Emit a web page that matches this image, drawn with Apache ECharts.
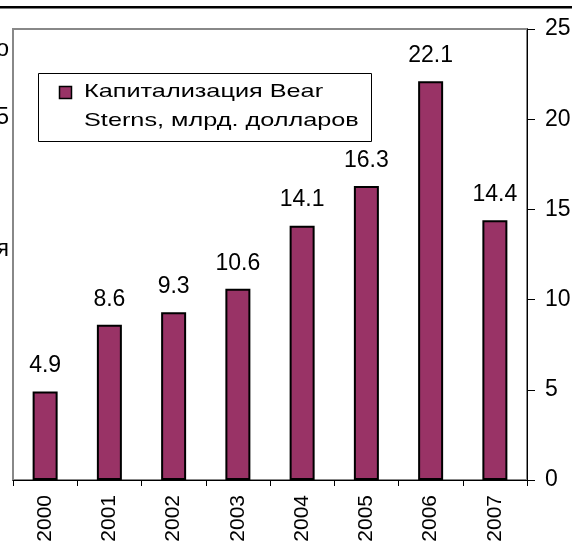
<!DOCTYPE html>
<html>
<head>
<meta charset="utf-8">
<script src="https://cdn.jsdelivr.net/npm/echarts@6/dist/echarts.min.js"></script>
<style>html,body{margin:0;padding:0;background:#fff}#c{width:572px;height:541px}</style>
</head>
<body>
<div id="c"></div>
<script>
const years = ['2000','2001','2002','2003','2004','2005','2006','2007'];
const capitalization = [4.9, 8.6, 9.3, 10.6, 14.1, 16.3, 22.1, 14.4];
const seriesName = 'Капитализация Bear Sterns, млрд. долларов';
const legendLines = ['Капитализация Bear', 'Sterns, млрд. долларов'];
const leftFragments = ['о', '5', 'я'];

const FONT = '"Liberation Sans", Arial, sans-serif';
const chart = echarts.init(document.getElementById('c'), null, {renderer: 'canvas'});
chart.setOption({
  animation: false,
  backgroundColor: '#fff',
  grid: {left: 13, right: 45, top: 29, bottom: 61, show: true, borderColor: '#888', borderWidth: 2, backgroundColor: 'transparent', containLabel: false, outerBoundsMode: 'none'},
  xAxis: {
    type: 'category', data: years,
    axisLine: {lineStyle: {color: '#000', width: 1}},
    axisTick: {show: true, length: 6, lineStyle: {color: '#000'}},
    axisLabel: {rotate: 90, fontSize: 21, color: '#000', fontFamily: FONT, margin: 15}
  },
  yAxis: {
    type: 'value', position: 'right', min: 0, max: 25, interval: 5,
    splitLine: {show: false},
    axisLine: {show: true, lineStyle: {color: '#000', width: 1}},
    axisTick: {show: true, inside: false, length: 8, lineStyle: {color: '#000'}},
    axisLabel: {fontSize: 23, color: '#000', fontFamily: FONT, margin: 18}
  },
  series: [{
    name: seriesName, type: 'bar', data: capitalization, barWidth: 25,
    itemStyle: {color: '#993366', borderColor: '#000', borderWidth: 2},
    label: {show: true, position: 'top', distance: 14, fontSize: 23, color: '#000', fontFamily: FONT}
  }],
  graphic: [
    {type: 'rect', shape: {x: 0, y: 6, width: 572, height: 2.5}, style: {fill: '#000'}},
    {type: 'rect', shape: {x: 38.5, y: 73.5, width: 333, height: 68}, style: {fill: '#fff', stroke: '#000', lineWidth: 1}},
    {type: 'rect', shape: {x: 59.5, y: 86.5, width: 12, height: 12}, style: {fill: '#993366', stroke: '#000', lineWidth: 1.5}},
    {type: 'text', x: 84, y: 91.5, scaleX: 1.33, style: {text: legendLines[0], font: '19px ' + FONT, fill: '#000', verticalAlign: 'middle'}},
    {type: 'text', x: 84, y: 120.5, scaleX: 1.33, style: {text: legendLines[1], font: '19px ' + FONT, fill: '#000', verticalAlign: 'middle'}},
    {type: 'text', x: 9, y: 50, style: {text: leftFragments[0], font: '23px ' + FONT, fill: '#000', align: 'right', verticalAlign: 'middle'}},
    {type: 'text', x: 9, y: 118, style: {text: leftFragments[1], font: '23px ' + FONT, fill: '#000', align: 'right', verticalAlign: 'middle'}},
    {type: 'text', x: 9, y: 250, style: {text: leftFragments[2], font: '23px ' + FONT, fill: '#000', align: 'right', verticalAlign: 'middle'}}
  ]
});
</script>
</body>
</html>
